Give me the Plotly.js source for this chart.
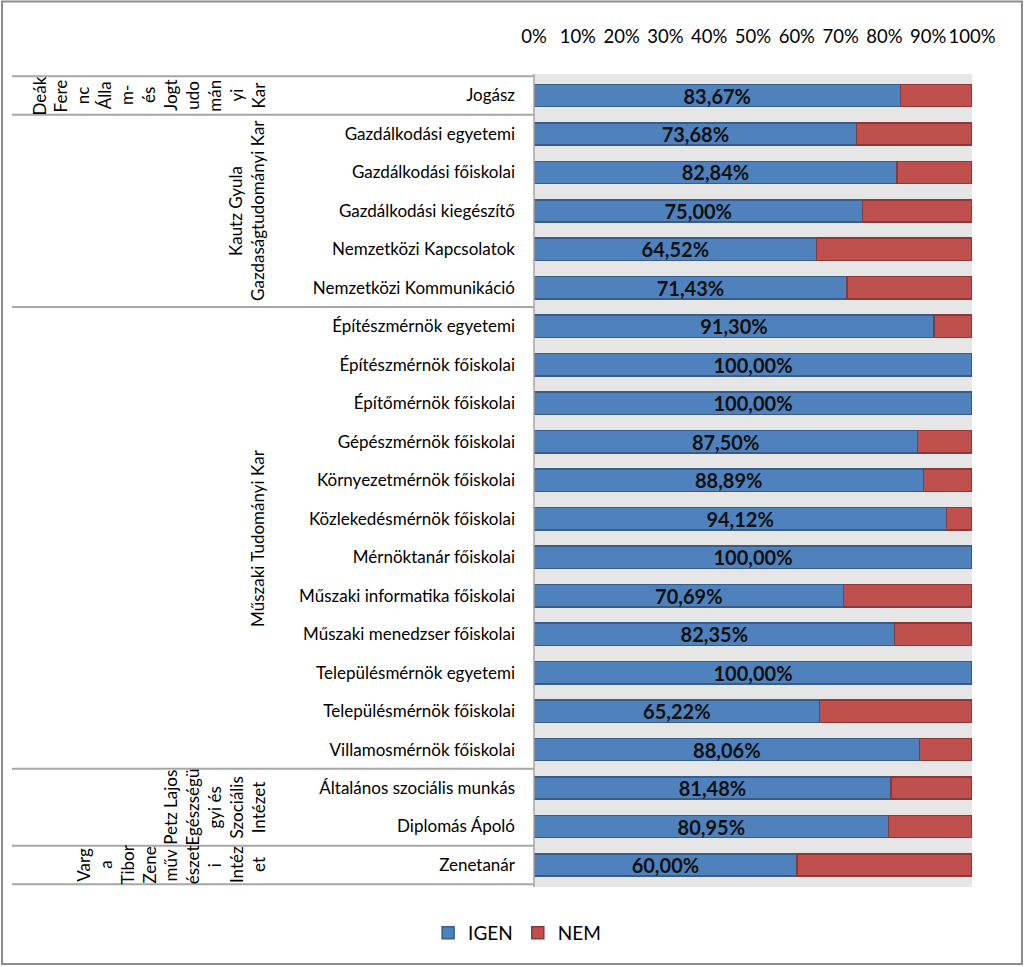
<!DOCTYPE html>
<html>
<head>
<meta charset="utf-8">
<script src="https://cdn.plot.ly/plotly-3.0.1.min.js"></script>
<style>html,body{margin:0;padding:0;background:#fff;}#chart{width:1024px;height:967px;}</style>
</head>
<body>
<div id="chart"></div>
<script>
const categories = [
  "Jogász",
  "Gazdálkodási egyetemi",
  "Gazdálkodási főiskolai",
  "Gazdálkodási kiegészítő",
  "Nemzetközi Kapcsolatok",
  "Nemzetközi Kommunikáció",
  "Építészmérnök egyetemi",
  "Építészmérnök főiskolai",
  "Építőmérnök főiskolai",
  "Gépészmérnök főiskolai",
  "Környezetmérnök főiskolai",
  "Közlekedésmérnök főiskolai",
  "Mérnöktanár főiskolai",
  "Műszaki informatika főiskolai",
  "Műszaki menedzser főiskolai",
  "Településmérnök egyetemi",
  "Településmérnök főiskolai",
  "Villamosmérnök főiskolai",
  "Általános szociális munkás",
  "Diplomás Ápoló",
  "Zenetanár"
];
const igen = [83.67, 73.68, 82.84, 75.00, 64.52, 71.43, 91.30, 100, 100, 87.50, 88.89, 94.12, 100, 70.69, 82.35, 100, 65.22, 88.06, 81.48, 80.95, 60.00];
const nem  = [16.33, 26.32, 17.16, 25.00, 35.48, 28.57, 8.70, 0, 0, 12.50, 11.11, 5.88, 0, 29.31, 17.65, 0, 34.78, 11.94, 18.52, 19.05, 40.00];
const igenLabels = ["83,67%","73,68%","82,84%","75,00%","64,52%","71,43%","91,30%","100,00%","100,00%","87,50%","88,89%","94,12%","100,00%","70,69%","82,35%","100,00%","65,22%","88,06%","81,48%","80,95%","60,00%"];
const tickVals = [0,10,20,30,40,50,60,70,80,90,100];
const tickText = ["0%","10%","20%","30%","40%","50%","60%","70%","80%","90%","100%"];
// faculty groups: first/last category index, label columns (as wrapped in the original)
const groupStart = [0, 1, 6, 18, 20];
const groupEnd   = [0, 5, 17, 19, 20];
const groupLines = [
  ["Deák","Fere","nc","Álla","m-","és","Jogt","udo","mán","yi","Kar"],
  ["Kautz Gyula","Gazdaságtudományi Kar"],
  ["Műszaki Tudományi Kar"],
  ["Petz Lajos","Egészségü","gyi és","Szociális","Intézet"],
  ["Varg","a","Tibor","Zene","műv","észet","i","Intéz","et"]
];

const FONT = "Lato, 'Open Sans', sans-serif";
const PL = 534, PR = 972, PW = PR - PL;
const px2paper = p => (p - PL) / PW;

const shapes = [];
const annotations = [];
// boundaries
const bounds = [-0.5];
groupEnd.forEach(e => bounds.push(e + 0.5));
bounds.forEach(b => shapes.push({type:'line', xref:'paper', yref:'y', x0:px2paper(12), x1:0, y0:b, y1:b, line:{color:'#a6a6a6', width:2}}));
// left axis line
shapes.push({type:'line', xref:'paper', yref:'paper', x0:0, x1:0, y0:0, y1:1, line:{color:'#a6a6a6', width:1.5}});
// outer frame
shapes.push({type:'rect', xref:'paper', yref:'paper', x0:px2paper(2), x1:px2paper(1022), y0:-(964-887)/(887-73.6), y1:1+(73.6-1)/(887-73.6), line:{color:'#8c8c8c', width:2}, fillcolor:'rgba(0,0,0,0)', layer:'below'});

groupLines.forEach((lines, g) => {
  const yc = (groupStart[g] + groupEnd[g]) / 2;
  const n = lines.length;
  lines.forEach((t, i) => {
    const xpx = 258 - (n - 1 - i) * 21.9;
    annotations.push({text:t, xref:'paper', yref:'y', x:px2paper(xpx), y:yc, textangle:-90, showarrow:false, xanchor:'center', yanchor:'middle', font:{family:FONT, size:17, color:'#000'}});
  });
});

const data = [
  {type:'bar', orientation:'h', name:'IGEN', y:categories, x:igen, text:igenLabels, texttemplate:'%{text}', textposition:'inside', insidetextanchor:'middle', textangle:0, constraintext:'none', cliponaxis:false,
   textfont:{family:FONT, size:20, color:'#111', weight:'bold'},
   marker:{color:'#4f81bd', line:{color:'#385d8a', width:1.5}}, hoverinfo:'skip'},
  {type:'bar', orientation:'h', name:'NEM', y:categories, x:nem, textposition:'none',
   marker:{color:'#c0504d', line:{color:'#8c3836', width:1.5}}, hoverinfo:'skip'}
];

const layout = {
  width:1024, height:967,
  margin:{l:PL, r:1024-PR, t:73.6, b:80, pad:0},
  barmode:'stack', bargap:0.42,
  paper_bgcolor:'#ffffff', plot_bgcolor:'#e6e6e6',
  showlegend:true,
  legend:{orientation:'h', x:0.505, xref:'container', xanchor:'center', y:(967-933)/967, yref:'container', yanchor:'middle', font:{family:FONT, size:19, color:'#000'}, traceorder:'normal', itemwidth:30},
  xaxis:{side:'top', range:[0,100], tickvals:tickVals, ticktext:tickText, tickangle:0, automargin:false, showgrid:false, zeroline:false, showline:false, ticks:'', ticklabelstandoff:26, tickfont:{family:FONT, size:18.5, color:'#000'}, fixedrange:true},
  yaxis:{type:'category', autorange:'reversed', automargin:false, showgrid:false, zeroline:false, showline:false, ticks:'', ticklabelstandoff:18, tickfont:{family:FONT, size:17, color:'#000'}, fixedrange:true},
  shapes:shapes,
  annotations:annotations
};

Plotly.newPlot('chart', data, layout, {displayModeBar:false, staticPlot:true});
</script>
</body>
</html>
